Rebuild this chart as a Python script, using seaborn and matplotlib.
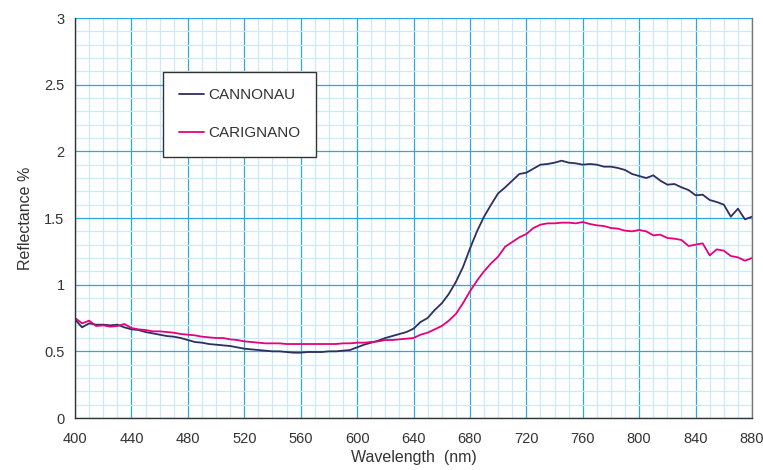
import numpy as np
import pandas as pd
import seaborn as sns
import matplotlib.pyplot as plt
from matplotlib.ticker import MultipleLocator

# wavelengths (nm), every 5 nm from 400 to 880
wavelength = list(range(400, 881, 5))

cannonau = [
    0.74, 0.68, 0.71, 0.70, 0.70, 0.695, 0.70, 0.68, 0.665, 0.66,
    0.645, 0.635, 0.625, 0.615, 0.61, 0.60, 0.585, 0.57, 0.565, 0.555,
    0.55, 0.545, 0.54, 0.53, 0.52, 0.515, 0.51, 0.505, 0.50, 0.50,
    0.495, 0.49, 0.49, 0.495, 0.495, 0.495, 0.50, 0.50, 0.505, 0.51,
    0.53, 0.55, 0.565, 0.58, 0.60, 0.615, 0.63, 0.645, 0.67, 0.72,
    0.75, 0.81, 0.86, 0.93, 1.02, 1.13, 1.27, 1.40, 1.51, 1.60,
    1.685, 1.73, 1.78, 1.83, 1.84, 1.87, 1.90, 1.905, 1.915, 1.93,
    1.915, 1.91, 1.90, 1.905, 1.90, 1.885, 1.885, 1.875, 1.86, 1.83,
    1.815, 1.80, 1.82, 1.78, 1.75, 1.755, 1.73, 1.71, 1.67, 1.675,
    1.635, 1.62, 1.60, 1.51, 1.57, 1.49, 1.51,
]

carignano = [
    0.75, 0.71, 0.73, 0.69, 0.695, 0.685, 0.69, 0.705, 0.675, 0.665,
    0.66, 0.65, 0.65, 0.645, 0.64, 0.63, 0.625, 0.62, 0.61, 0.605,
    0.60, 0.60, 0.59, 0.585, 0.575, 0.57, 0.565, 0.56, 0.56, 0.56,
    0.555, 0.555, 0.555, 0.555, 0.555, 0.555, 0.555, 0.555, 0.56, 0.56,
    0.565, 0.565, 0.57, 0.575, 0.585, 0.585, 0.59, 0.595, 0.60, 0.625,
    0.64, 0.665, 0.69, 0.73, 0.78, 0.86, 0.95, 1.03, 1.10, 1.16,
    1.21, 1.285, 1.32, 1.355, 1.38, 1.425, 1.45, 1.46, 1.46, 1.465,
    1.465, 1.46, 1.47, 1.455, 1.445, 1.44, 1.425, 1.42, 1.405, 1.40,
    1.41, 1.40, 1.37, 1.375, 1.35, 1.345, 1.335, 1.29, 1.30, 1.31,
    1.22, 1.265, 1.255, 1.215, 1.205, 1.18, 1.20,
]

series_names = ['CANNONAU', 'CARIGNANO']
series_colors = ['#2d2f5f', '#e5007e']

df = pd.DataFrame({
    'Wavelength': wavelength * 2,
    'Reflectance': cannonau + carignano,
    'Variety': [series_names[0]] * len(wavelength) + [series_names[1]] * len(wavelength),
})

sns.set_style('white')
plt.rcParams['font.family'] = ['Liberation Sans', 'DejaVu Sans']

fig, ax = plt.subplots(figsize=(7.63, 4.70), dpi=100)
fig.subplots_adjust(left=0.0983, right=0.9856, top=0.9617, bottom=0.1106)

sns.lineplot(data=df, x='Wavelength', y='Reflectance', hue='Variety',
             palette=series_colors, linewidth=1.3, ax=ax)

ax.set_xlim(400, 880)
ax.set_ylim(0, 3)
ax.xaxis.set_major_locator(MultipleLocator(40))
ax.xaxis.set_minor_locator(MultipleLocator(10))
ax.yaxis.set_major_locator(MultipleLocator(0.5))
ax.yaxis.set_minor_locator(MultipleLocator(0.1))
ax.set_yticks([0, 0.5, 1, 1.5, 2, 2.5, 3])
ax.set_yticklabels(['0', '0.5', '1', '1.5', '2', '2.5', '3'])

ax.grid(which='minor', color='#cbe9f8', linewidth=0.9)
ax.grid(which='major', color='#2aa9e0', linewidth=0.9)
ax.set_axisbelow(True)

for s in ['left', 'bottom']:
    ax.spines[s].set_color('#333333')
    ax.spines[s].set_linewidth(1.0)
ax.spines['top'].set_visible(False)
ax.spines['right'].set_color('#777777')
ax.spines['right'].set_linewidth(1.0)

ax.tick_params(axis='both', which='major', direction='out', length=4,
               width=1, color='#333333', labelsize=10.5, labelcolor='#333333')
ax.tick_params(axis='x', which='major', pad=6)
ax.tick_params(axis='both', which='minor', length=0)

ax.set_xlabel('Wavelength  (nm)', fontsize=11.5, color='#333333', labelpad=3)
ax.set_ylabel('Reflectance %', fontsize=11.5, color='#333333', labelpad=8)

leg = ax.legend(loc='upper left', bbox_to_anchor=(0.13, 0.865), frameon=True,
                fancybox=False, framealpha=1, edgecolor='#333333',
                fontsize=11, labelspacing=1.6, handlelength=1.6,
                borderpad=1.05, handletextpad=0.3, borderaxespad=0)
leg.get_frame().set_linewidth(1.0)
for t in leg.get_texts():
    t.set_color('#333333')

fig.savefig('out.png', dpi=100)
